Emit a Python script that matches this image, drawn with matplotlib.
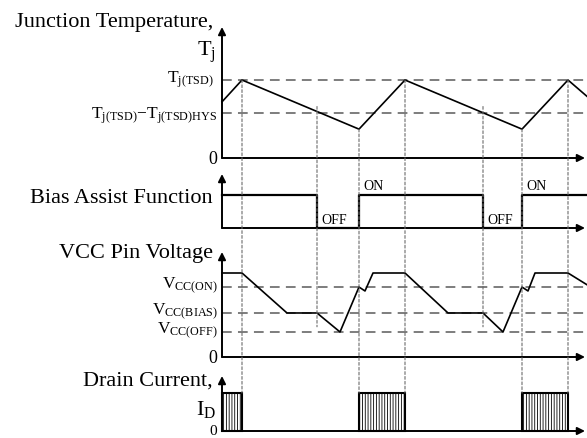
import numpy as np
import matplotlib
matplotlib.use("Agg")
import matplotlib.pyplot as plt
from matplotlib.patches import ConnectionPatch

plt.rcParams['font.family'] = ['Liberation Serif', 'DejaVu Serif']
plt.rcParams['mathtext.fontset'] = 'custom'
plt.rcParams['mathtext.rm'] = 'Liberation Serif'
plt.rcParams['mathtext.it'] = 'Liberation Serif:italic'
plt.rcParams['mathtext.bf'] = 'Liberation Serif:bold'
plt.rcParams['hatch.linewidth'] = 0.6
plt.rcParams['lines.scale_dashes'] = False

# ---------------- data (time in arbitrary units) ----------------
t_end = 365
events = [20, 95, 137, 183, 261, 300, 346]

# Junction temperature (normalized: Tj(TSD)=1)
t_tj = [0, 20, 137, 183, 300, 346, 365]
tj = [0.72, 1.0, 0.37, 1.0, 0.37, 1.0, 0.79]
tj_levels = [1.0, 0.58]
tj_labels = [r'$\mathrm{T_{j(TSD)}}$', r'$\mathrm{T_{j(TSD)}{-}T_{j(TSD)HYS}}$']

# Bias assist function (1 = ON, 0 = OFF)
t_bias = [0, 95, 95, 137, 137, 261, 261, 300, 300, 365]
bias = [1, 1, 0, 0, 1, 1, 0, 0, 1, 1]
on_times = [137, 300]
off_times = [95, 261]

# VCC pin voltage (normalized)
t_vcc = [0, 20, 65, 95, 118, 137, 143, 151, 183, 226, 261, 281, 300, 306, 313, 346, 365]
vcc = [1.0, 1.0, 0.524, 0.524, 0.298, 0.833, 0.786, 1.0, 1.0, 0.524, 0.524, 0.298, 0.833, 0.786, 1.0, 1.0, 0.86]
vcc_levels = [0.833, 0.524, 0.298]
vcc_labels = [r'$\mathrm{V_{CC(ON)}}$', r'$\mathrm{V_{CC(BIAS)}}$', r'$\mathrm{V_{CC(OFF)}}$']

# Drain current pulses
pulse_start = [0, 137, 300]
pulse_end = [20, 183, 346]

# guide-line extents (levels in top / bottom panels)
guide_top = [1.0, 0.66, 0.37, 1.0, 0.66, 0.37, 1.0]
guide_bottom_panel = [3, 2, 3, 3, 2, 3, 3]
guide_bottom = [1.0, 0.36, 1.0, 1.0, 0.36, 1.0, 1.0]

# ---------------- figure ----------------
W, H = 587, 439
fig = plt.figure(figsize=(W / 100, H / 100), dpi=100)

X0, X1 = 222, 587
def add_panel(base_px, top_px, scale):
    ax = fig.add_axes([X0 / W, (H - base_px) / H, (X1 - X0) / W, (base_px - top_px) / H])
    ax.set_xlim(0, t_end)
    ax.set_ylim(0, (base_px - top_px) / scale)
    ax.axis('off')
    ytop = (base_px - top_px) / scale
    arrow = dict(arrowstyle='-|>', lw=1.4, color='k', mutation_scale=11, shrinkA=0, shrinkB=0)
    ax.annotate('', xy=(0, ytop), xytext=(0, 0), arrowprops=arrow, annotation_clip=False)
    ax.annotate('', xy=(363, 0), xytext=(0, 0), arrowprops=arrow, annotation_clip=False)
    return ax

ax1 = add_panel(159, 28, 78)
ax2 = add_panel(229, 175, 33)
ax3 = add_panel(358, 253, 84)
ax4 = add_panel(432, 377, 38)
axes = [ax1, ax2, ax3, ax4]

dash_kw = dict(color='#5a5a5a', lw=1.1, dashes=(7, 4.5), clip_on=False)
lab_kw = dict(textcoords='offset pixels', ha='right', va='baseline', annotation_clip=False)

# Panel 1
for lv in tj_levels:
    ax1.plot([0, t_end], [lv, lv], **dash_kw)
ax1.plot(t_tj, tj, color='k', lw=1.2, clip_on=False, zorder=3)
ax1.annotate(tj_labels[0], xy=(0, tj_levels[0]), xytext=(-8, -2), fontsize=12.5, **lab_kw)
ax1.annotate(tj_labels[1], xy=(0, tj_levels[1]), xytext=(-5, -5), fontsize=12.5, **lab_kw)
ax1.annotate('0', xy=(0, 0), xytext=(-5, -5), fontsize=13, **lab_kw)
fig.text(213 / W, 1 - 27 / H, 'Junction Temperature,', ha='right', va='baseline', fontsize=16)
fig.text(216 / W, 1 - 56 / H, r'$\mathrm{T_j}$', ha='right', va='baseline', fontsize=16)

# Panel 2
ax2.plot(t_bias, bias, color='k', lw=1.6, clip_on=False, zorder=3)
for t in on_times:
    ax2.annotate('ON', xy=(t, 1), xytext=(4, 3), textcoords='offset pixels', fontsize=10,
                 ha='left', va='bottom', annotation_clip=False)
for t in off_times:
    ax2.annotate('OFF', xy=(t, 0), xytext=(4, 2), textcoords='offset pixels', fontsize=10,
                 ha='left', va='bottom', annotation_clip=False)
fig.text(213 / W, 1 - 203 / H, 'Bias Assist Function', ha='right', va='baseline', fontsize=16)

# Panel 3
for lv in vcc_levels:
    ax3.plot([0, t_end], [lv, lv], **dash_kw)
ax3.plot(t_vcc, vcc, color='k', lw=1.2, clip_on=False, zorder=3)
for lv, lab in zip(vcc_levels, vcc_labels):
    ax3.annotate(lab, xy=(0, lv), xytext=(-4, -1), fontsize=12.5, **lab_kw)
ax3.annotate('0', xy=(0, 0), xytext=(-5, -5), fontsize=13, **lab_kw)
fig.text(213 / W, 1 - 258 / H, 'VCC Pin Voltage', ha='right', va='baseline', fontsize=16)

# Panel 4
widths = np.array(pulse_end) - np.array(pulse_start)
ax4.bar(pulse_start, [1.0] * len(pulse_start), width=widths, align='edge', fill=False,
        hatch='||||||', edgecolor='k', lw=1.5, clip_on=False, zorder=3)
ax4.annotate('0', xy=(0, 0), xytext=(-5, -6.5), textcoords='offset pixels', ha='right',
             va='bottom', fontsize=11, annotation_clip=False)
fig.text(213 / W, 1 - 386 / H, 'Drain Current,', ha='right', va='baseline', fontsize=16)
fig.text(216 / W, 1 - 415 / H, r'$\mathrm{I_D}$', ha='right', va='baseline', fontsize=16)

# Vertical guide lines
for t, ytop, bp, yb in zip(events, guide_top, guide_bottom_panel, guide_bottom):
    con = ConnectionPatch(xyA=(t, ytop), coordsA=ax1.transData,
                          xyB=(t, yb), coordsB=axes[bp].transData,
                          color='#6a6a6a', lw=0.8, linestyle=(0, (2, 1.5)), zorder=1)
    fig.add_artist(con)

fig.savefig('out.png', dpi=100)
